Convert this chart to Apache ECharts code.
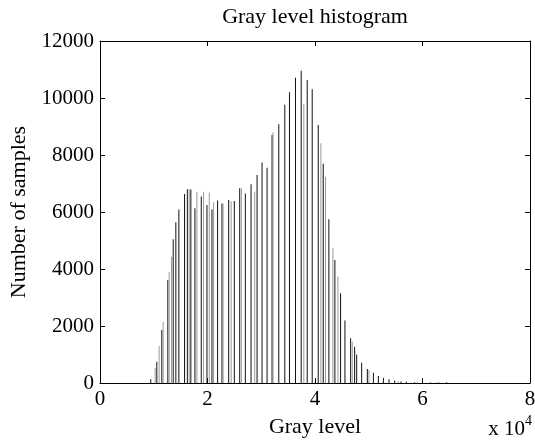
<!DOCTYPE html>
<html>
<head>
<meta charset="utf-8">
<script src="https://cdn.jsdelivr.net/npm/echarts@6/dist/echarts.min.js"></script>
<style>html,body{margin:0;padding:0;background:#fff}#c{width:535px;height:442px}</style>
</head>
<body>
<div id="c"></div>
<script>
// Gray level positions and counts (main, darker bins)
var darkLevels = [9450,10570,11500,12620,13620,14110,14670,15730,16250,16900,17660,18840,19900,20830,21880,22690,23940,24990,25990,27040,28100,29220,30150,31080,32010,33260,34380,35250,36370,37430,38550,39480,40600,41530,42580,43700,44760,45570,46630,47370,47750,48680,49740,50860,51790,52720,53770,54830,56000,57000,58500,60000,61500,63000,64500];
var darkCounts = [130,750,1860,3610,5040,5640,6090,6630,6800,6790,6130,6540,6250,6090,6400,6300,6420,6390,6830,6650,6970,7300,7740,7550,8700,9080,9760,10200,10710,10960,10630,10310,9050,7690,5750,4320,3150,2190,1570,1270,1000,710,490,360,245,185,130,90,50,40,30,160,20,20,25];
// Neighbouring lighter bins
var lightLevels = [10260,11000,11750,12870,13300,16600,18030,19270,20330,21130,22900,24400,26300,28780,32200,37920,41100,41960,43330,44260,46930,50040,55500,59000,62500];
var lightCounts = [525,1300,2140,3900,4430,6800,6710,6710,6680,6340,6290,6380,6830,6710,8800,9790,8410,7240,4730,3730,1450,455,60,40,30];
// Axis ticks
var xTicks = [0,20000,40000,60000,80000];
var yTicks = [0,2000,4000,6000,8000,10000,12000];

function pairs(a,b){return a.map(function(v,i){return [v,b[i]];});}
var font = 'Liberation Serif, Times New Roman, serif';
var chart = echarts.init(document.getElementById('c'), null, {renderer:'canvas'});
function axisCommon(){
  return {
    axisLine:{show:true,onZero:false,lineStyle:{color:'#000',width:1}},
    axisTick:{show:true,inside:true,length:5,lineStyle:{color:'#000'}},
    splitLine:{show:false}
  };
}
chart.setOption({
  animation:false,
  backgroundColor:'#fff',
  title:{text:'Gray level histogram',left:315,top:6,textAlign:'center',padding:0,
    textStyle:{fontFamily:font,fontSize:22,fontWeight:'normal',color:'#000'}},
  grid:{left:100,right:5,top:41,bottom:59,containLabel:false,outerBoundsMode:'none'},
  xAxis:[
    Object.assign({type:'value',position:'bottom',min:xTicks[0],max:xTicks[xTicks.length-1],interval:20000,
      name:'Gray level',nameLocation:'middle',nameGap:33,
      nameTextStyle:{fontFamily:font,fontSize:22,color:'#000'},
      axisLabel:{fontFamily:font,fontSize:21,color:'#000',margin:6,formatter:function(v){return String(v/10000);}}},axisCommon()),
    Object.assign({type:'value',position:'top',min:xTicks[0],max:xTicks[xTicks.length-1],interval:20000,
      axisLabel:{show:false}},axisCommon())
  ],
  yAxis:[
    Object.assign({type:'value',position:'left',min:yTicks[0],max:yTicks[yTicks.length-1],interval:2000,
      name:'Number of samples',nameLocation:'middle',nameGap:69,
      nameTextStyle:{fontFamily:font,fontSize:22,color:'#000'},
      axisLabel:{fontFamily:font,fontSize:21,color:'#000',margin:6,formatter:function(v){return String(v);}}},axisCommon()),
    Object.assign({type:'value',position:'right',min:yTicks[0],max:yTicks[yTicks.length-1],interval:2000,
      axisLabel:{show:false}},axisCommon())
  ],
  graphic:[{type:'text',right:3,bottom:2,style:{
    text:'x 10{s|4}',fontFamily:font,fontSize:21,fill:'#000',
    rich:{s:{fontFamily:font,fontSize:14,verticalAlign:'top',lineHeight:30}}
  }}],
  series:[
    {type:'bar',name:'dark',data:pairs(darkLevels,darkCounts),barWidth:1,barGap:'-100%',
      itemStyle:{color:'#111'},xAxisIndex:0,yAxisIndex:0},
    {type:'bar',name:'light',data:pairs(lightLevels,lightCounts),barWidth:1,barGap:'-100%',
      itemStyle:{color:'#9a9a9a'},xAxisIndex:0,yAxisIndex:0}
  ]
});
</script>
</body>
</html>
